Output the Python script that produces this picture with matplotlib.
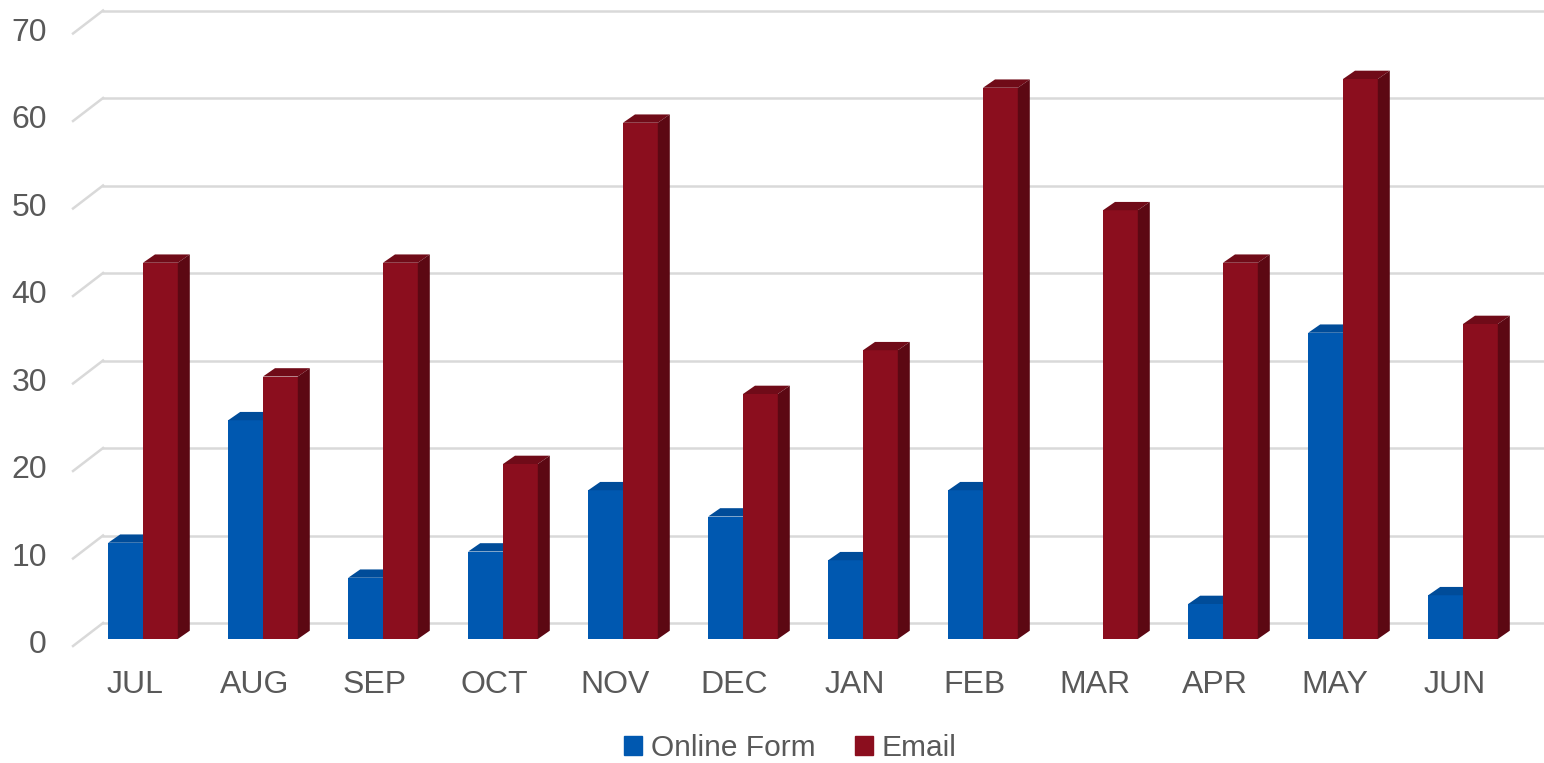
import matplotlib.pyplot as plt
from matplotlib.patches import Polygon, Patch

months = ["JUL", "AUG", "SEP", "OCT", "NOV", "DEC", "JAN", "FEB", "MAR", "APR", "MAY", "JUN"]
online_form = [11, 25, 7, 10, 17, 14, 9, 17, 0, 4, 35, 5]
email = [43, 30, 43, 20, 59, 28, 33, 63, 49, 43, 64, 36]
y_ticks = [0, 10, 20, 30, 40, 50, 60, 70]

plt.rcParams['font.family'] = ['Liberation Sans', 'DejaVu Sans']
text_col = "#595959"
grid_col = "#D9D9D9"

# colours: front, top, side
blue = ("#0058B0", "#004C99", "#003F80")
red = ("#8B0E1E", "#700B18", "#5C0813")

fig = plt.figure(figsize=(15.44, 7.63), dpi=100)
ax = fig.add_axes([0, 0, 1, 1])
# 1 category = 120 px, 1 unit = 8.75 px
ax.set_xlim(-143 / 120, (1544 - 143) / 120)
ax.set_ylim(-124 / 8.75, 639 / 8.75)
ax.axis("off")

w = 0.29       # bar width
dx, dy = 0.1, 0.95   # bar depth
bx, by = 30 / 120, 16 / 8.75   # back wall offset

# back wall gridlines + floor/side slants
for v in y_ticks:
    ax.plot([-0.333, 12], [v + by, v + by], color=grid_col, lw=1.8, zorder=1)
    ax.plot([-0.583, -0.333], [v - 0.8, v + by], color=grid_col, lw=1.8, zorder=1)
    ax.text(-0.8, v - 0.7, str(v), ha="right", va="center", fontsize=23, color=text_col)

x = list(range(len(months)))


def bar3d(xs, vals, cols, z):
    ax.bar(xs, vals, width=w, align="edge", color=cols[0], zorder=z, linewidth=0)
    for l, h in zip(xs, vals):
        if h <= 0:
            continue
        top = [(l, h), (l + dx, h + dy), (l + w + dx, h + dy), (l + w, h)]
        side = [(l + w, 0), (l + w, h), (l + w + dx, h + dy), (l + w + dx, dy)]
        ax.add_patch(Polygon(top, closed=True, color=cols[1], lw=0, zorder=z))
        ax.add_patch(Polygon(side, closed=True, color=cols[2], lw=0, zorder=z))


bar3d([i - w for i in x], online_form, blue, 2)
bar3d([i for i in x], email, red, 3)

for i, m in enumerate(months):
    ax.text(i - 0.07, -5.25, m, ha="center", va="center", fontsize=23, color=text_col)

handles = [Patch(color=blue[0], label="Online Form"), Patch(color=red[0], label="Email")]
fig.legend(handles=handles, loc="center", bbox_to_anchor=(0.512, 15 / 763), ncol=2,
           frameon=False, fontsize=21.5, labelcolor=text_col, handlelength=0.6,
           handleheight=0.6, handletextpad=0.3, columnspacing=1.3)

fig.savefig("out.png", dpi=100)
